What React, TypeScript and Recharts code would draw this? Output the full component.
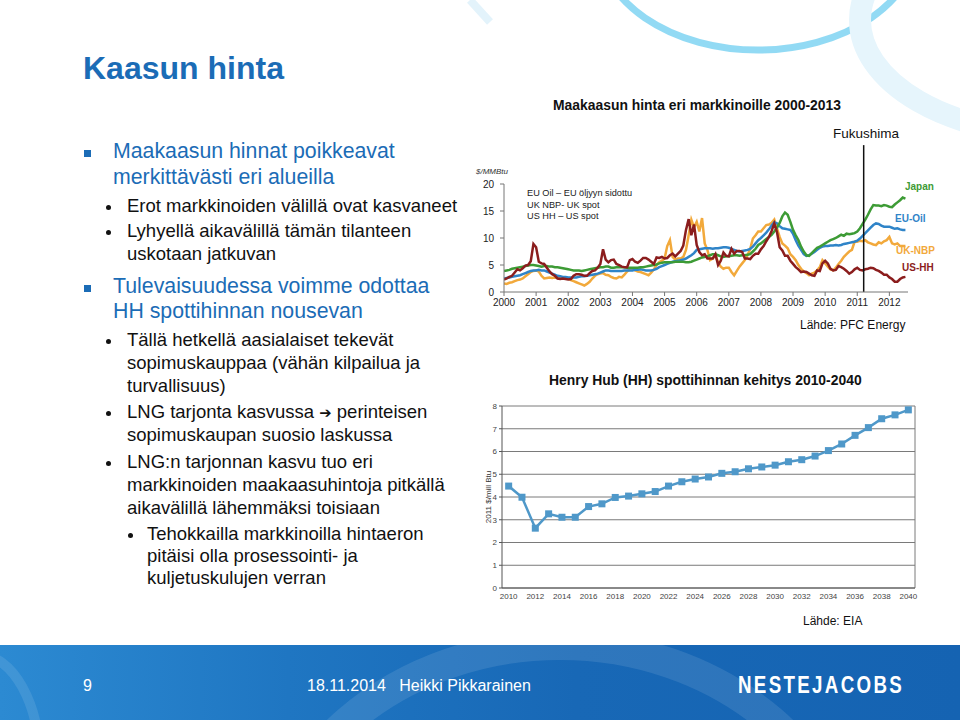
import React from 'react'
import { LineChart, Line, XAxis, YAxis, CartesianGrid, ReferenceLine, Label } from 'recharts'

// Monthly gas prices, $/MMBtu, Jan 2000 - Jul 2012 (one row per year)
const usHH = [
  2.3, 2.5, 2.8, 3.0, 3.6, 4.2, 4.0, 4.4, 4.9, 5.0, 5.7, 8.9,
  8.3, 5.6, 5.3, 5.2, 4.5, 3.8, 3.3, 3.0, 2.5, 2.4, 2.5, 2.4,
  2.3, 2.4, 3.0, 3.3, 3.3, 3.2, 3.0, 3.0, 3.5, 3.9, 4.0, 4.5,
  5.2, 7.9, 6.0, 5.5, 5.9, 6.0, 5.2, 5.0, 4.7, 4.6, 4.6, 5.9,
  6.1, 5.6, 5.4, 5.8, 6.3, 6.3, 6.0, 5.6, 5.2, 6.4, 6.3, 6.5,
  6.2, 6.3, 6.8, 7.1, 6.6, 7.1, 7.6, 8.6, 11.5, 13.5, 10.5, 12.5,
  8.7, 7.4, 6.8, 7.0, 6.2, 6.2, 6.2, 7.0, 5.0, 5.8, 7.3, 6.7,
  6.6, 8.0, 7.1, 7.6, 7.6, 7.4, 6.2, 6.2, 6.1, 6.7, 7.1, 7.1,
  7.9, 8.5, 9.4, 10.2, 11.3, 12.7, 11.1, 8.3, 7.7, 6.7, 6.7, 5.8,
  5.2, 4.6, 4.2, 3.7, 3.8, 3.7, 3.4, 3.1, 3.0, 4.0, 3.9, 5.3,
  5.8, 5.3, 4.3, 4.0, 4.1, 4.8, 4.6, 4.3, 3.9, 3.4, 3.7, 4.2,
  4.5, 4.1, 4.0, 4.2, 4.3, 4.5, 4.4, 4.1, 3.9, 3.6, 3.2, 3.2,
  2.7, 2.4, 1.9, 1.9, 2.4, 2.7, 2.8,
]
const ukNBP = [
  1.6, 1.5, 1.7, 1.8, 2.0, 2.2, 2.3, 2.5, 2.9, 3.3, 3.7, 3.9,
  4.0, 3.8, 3.0, 2.5, 2.6, 2.7, 2.6, 2.7, 2.6, 2.8, 2.6, 2.5,
  2.5, 2.2, 2.0, 1.8, 1.6, 1.4, 1.2, 1.5, 1.9, 2.5, 3.0, 3.3,
  3.4, 3.5, 3.2, 3.1, 2.8, 2.6, 2.5, 2.8, 2.7, 3.2, 3.8, 4.2,
  4.3, 4.0, 3.8, 3.7, 3.5, 3.3, 3.1, 3.6, 4.2, 5.0, 5.5, 5.8,
  6.2, 8.5, 9.6, 6.5, 6.0, 6.2, 6.2, 6.5, 7.8, 10.5, 13.4, 12.0,
  13.0, 11.2, 13.7, 9.0, 7.8, 5.9, 6.2, 6.8, 5.5, 4.7, 4.3, 4.5,
  4.5, 3.7, 3.1, 3.9, 4.7, 5.3, 5.9, 6.8, 8.0, 9.9, 10.5, 11.2,
  11.2, 11.8, 12.4, 12.5, 12.8, 13.4, 11.8, 10.2, 9.0, 8.6, 8.1, 7.0,
  6.5, 5.9, 5.0, 4.3, 3.8, 3.5, 3.1, 3.4, 3.6, 4.0, 4.6, 5.9,
  5.3, 4.7, 4.2, 4.0, 4.5, 5.2, 5.8, 6.5, 7.0, 7.5, 7.8, 9.3,
  9.3, 9.5, 9.4, 9.6, 9.2, 9.0, 8.8, 8.7, 9.2, 9.0, 9.4, 9.6,
  10.2, 9.0, 8.8, 9.0, 8.5, 8.5, 8.5,
]
const euOil = [
  2.5, 2.6, 2.7, 2.8, 2.9, 3.0, 3.1, 3.3, 3.5, 3.7, 3.9, 4.0,
  4.0, 4.1, 4.0, 4.0, 3.8, 3.6, 3.4, 3.2, 3.0, 2.9, 2.8, 2.8,
  2.7, 2.7, 2.7, 2.7, 2.8, 2.9, 2.9, 3.0, 3.1, 3.2, 3.3, 3.4,
  3.6, 3.8, 4.0, 4.0, 3.9, 3.9, 3.9, 3.9, 3.9, 4.0, 4.0, 4.0,
  4.0, 4.1, 4.1, 4.2, 4.1, 4.0, 4.0, 4.0, 4.1, 4.3, 4.6, 4.8,
  5.0, 5.2, 5.4, 5.6, 5.7, 5.8, 5.9, 6.0, 6.2, 6.5, 6.8, 7.2,
  7.8, 7.9, 8.0, 8.1, 8.1, 8.1, 8.0, 8.1, 8.1, 8.2, 8.3, 8.3,
  8.2, 8.0, 7.8, 7.6, 7.5, 7.6, 7.7, 7.8, 8.0, 8.4, 9.0, 9.6,
  10.0, 10.5, 11.0, 11.6, 12.3, 12.9, 12.7, 12.2, 11.8, 11.7, 11.6, 11.5,
  10.8, 9.6, 8.6, 7.8, 7.0, 6.7, 6.8, 7.1, 7.4, 7.8, 8.2, 8.4,
  8.5, 8.5, 8.6, 8.6, 8.7, 8.6, 8.7, 8.9, 9.0, 9.1, 9.2, 9.3,
  9.5, 9.9, 10.4, 10.9, 11.4, 11.9, 12.4, 12.7, 12.6, 12.3, 12.1, 12.1,
  12.1, 11.9, 11.7, 11.8, 11.6, 11.5, 11.5,
]
const japan = [
  3.9, 4.0, 4.1, 4.3, 4.4, 4.5, 4.6, 4.7, 4.8, 4.9, 5.0, 5.0,
  4.9, 4.8, 4.7, 4.8, 4.8, 4.7, 4.7, 4.6, 4.6, 4.5, 4.4, 4.3,
  4.2, 4.1, 4.0, 4.0, 4.0, 3.9, 4.0, 4.1, 4.2, 4.3, 4.4, 4.5,
  4.6, 4.6, 4.7, 4.7, 4.5, 4.5, 4.6, 4.6, 4.6, 4.6, 4.5, 4.5,
  4.5, 4.5, 4.5, 4.6, 4.6, 4.7, 4.8, 4.9, 5.0, 5.1, 5.3, 5.4,
  5.5, 5.5, 5.5, 5.5, 5.6, 5.6, 5.6, 5.6, 5.5, 5.5, 5.6, 5.8,
  6.0, 6.2, 6.4, 6.5, 6.6, 6.8, 7.0, 7.0, 6.8, 6.6, 6.5, 6.6,
  6.6, 6.7, 6.8, 6.8, 6.7, 6.8, 6.8, 6.9, 7.0, 7.5, 8.0, 8.7,
  9.0, 9.4, 9.8, 10.2, 10.6, 11.2, 11.9, 12.8, 14.0, 14.7, 14.3, 13.0,
  11.5, 10.5, 9.6, 8.4, 7.5, 6.8, 6.7, 7.2, 7.7, 8.2, 8.4, 8.7,
  9.0, 9.3, 9.6, 9.8, 10.0, 10.3, 10.6, 10.4, 10.8, 10.7, 10.8, 10.9,
  11.2, 11.8, 12.6, 13.4, 14.3, 15.3, 16.1, 16.0, 16.0, 15.9, 16.1, 16.0,
  15.8, 15.7, 16.2, 16.6, 17.0, 17.5, 17.3,
]
const priceYears = [2000, 2001, 2002, 2003, 2004, 2005, 2006, 2007, 2008, 2009, 2010, 2011, 2012]
const FUKUSHIMA = 2011.2

// Henry Hub outlook, 2011 $/mill Btu
const hhYears = [
  2010, 2011, 2012, 2013, 2014, 2015, 2016, 2017, 2018, 2019, 2020,
  2021, 2022, 2023, 2024, 2025, 2026, 2027, 2028, 2029, 2030,
  2031, 2032, 2033, 2034, 2035, 2036, 2037, 2038, 2039, 2040,
]
const hhPrice = [
  4.48, 3.99, 2.63, 3.26, 3.11, 3.11, 3.58, 3.70, 3.98, 4.04, 4.14,
  4.24, 4.48, 4.67, 4.79, 4.88, 5.04, 5.11, 5.24, 5.32, 5.40,
  5.55, 5.64, 5.80, 6.04, 6.33, 6.71, 7.05, 7.44, 7.61, 7.83,
]
const hhTicks = [0, 1, 2, 3, 4, 5, 6, 7, 8]

const marketData = usHH.map((v, i) => ({
  t: 2000 + i / 12,
  usHH: v,
  ukNBP: ukNBP[i],
  euOil: euOil[i],
  japan: japan[i],
}))
const hhData = hhYears.map((y, i) => ({ year: String(y), price: hhPrice[i] }))

const BLUE = '#1b6cb6'
const FONT = "'Liberation Sans', Arial, sans-serif"
const HH_COLOR = '#4f98c9'

function T({ x, y, size = 18.5, color = '#111', bold = false, children }: any) {
  return (
    <div style={{ position: 'absolute', left: x, top: y - size * 0.56, fontSize: size, lineHeight: 1, color, fontWeight: bold ? 700 : 400, whiteSpace: 'nowrap' }}>
      {children}
    </div>
  )
}

function Dot({ x, y }: any) {
  return <div style={{ position: 'absolute', left: x - 2.5, top: y - 2.5, width: 5, height: 5, borderRadius: 3, background: '#111' }} />
}

function Square({ x, y }: any) {
  return <div style={{ position: 'absolute', left: x - 3.5, top: y - 3.5, width: 7, height: 7, background: BLUE }} />
}

const SquareDot = (props: any) => {
  const { cx, cy } = props
  if (cx == null || cy == null) return null
  return <rect x={cx - 3.5} y={cy - 3.5} width={7} height={7} fill={HH_COLOR} />
}

const L1 = 21.3

export default function App() {
  return (
    <div style={{ position: 'relative', width: 960, height: 720, overflow: 'hidden', background: '#fff', fontFamily: FONT }}>
      <style>{'body{margin:0}'}</style>

      {/* background swooshes */}
      <svg width={960} height={720} style={{ position: 'absolute', left: 0, top: 0 }}>
        <ellipse cx={758} cy={-60} rx={160} ry={110} fill="none" stroke="#7fd3f2" strokeWidth={7} opacity={0.85} />
        <ellipse cx={1060} cy={20} rx={200} ry={115} fill="none" stroke="#e6f5fc" strokeWidth={22} />
        <path d="M 470 0 L 490 22" stroke="#e3f3fb" strokeWidth={8} />
      </svg>

      <T x={83} y={70} size={32} color={BLUE} bold>Kaasun hinta</T>

      {/* bullet text */}
      <Square x={87} y={153} />
      <T x={113} y={153} size={L1} color={BLUE}>Maakaasun hinnat poikkeavat</T>
      <T x={113} y={179} size={L1} color={BLUE}>merkittävästi eri alueilla</T>
      <Dot x={108} y={207} />
      <T x={127} y={207}>Erot markkinoiden välillä ovat kasvaneet</T>
      <Dot x={108} y={232} />
      <T x={127} y={232}>Lyhyellä aikavälillä tämän tilanteen</T>
      <T x={127} y={255}>uskotaan jatkuvan</T>
      <Square x={87} y={288} />
      <T x={113} y={288} size={L1} color={BLUE}>Tulevaisuudessa voimme odottaa</T>
      <T x={113} y={313} size={L1} color={BLUE}>HH spottihinnan nousevan</T>
      <Dot x={108} y={341} />
      <T x={127} y={341}>Tällä hetkellä aasialaiset tekevät</T>
      <T x={127} y={364}>sopimuskauppaa (vähän kilpailua ja</T>
      <T x={127} y={387}>turvallisuus)</T>
      <Dot x={108} y={413} />
      <T x={127} y={413}>LNG tarjonta kasvussa <span style={{ fontFamily: "'DejaVu Sans', sans-serif", fontSize: '0.8em' }}>➔</span> perinteisen</T>
      <T x={127} y={436}>sopimuskaupan suosio laskussa</T>
      <Dot x={108} y={463} />
      <T x={127} y={463}>LNG:n tarjonnan kasvu tuo eri</T>
      <T x={127} y={486}>markkinoiden maakaasuhintoja pitkällä</T>
      <T x={127} y={509}>aikavälillä lähemmäksi toisiaan</T>
      <Dot x={130} y={535} />
      <T x={147} y={535}>Tehokkailla markkinoilla hintaeron</T>
      <T x={147} y={557}>pitäisi olla prosessointi- ja</T>
      <T x={147} y={579}>kuljetuskulujen verran</T>

      {/* chart 1: market prices */}
      <T x={553} y={107} size={13.9} bold>Maakaasun hinta eri markkinoille 2000-2013</T>
      <T x={833} y={135} size={13.5}>Fukushima</T>
      <div style={{ position: 'absolute', left: 476, top: 167, fontSize: 8, fontStyle: 'italic', color: '#333' }}>$/MMBtu</div>
      <div style={{ position: 'absolute', left: 440, top: 140 }}>
        <LineChart width={500} height={180} data={marketData} margin={{ top: 44, right: 32, bottom: 6, left: 0 }}>
          <XAxis
            dataKey="t"
            type="number"
            domain={[2000, 2012.58]}
            ticks={priceYears}
            tickFormatter={(v: number) => String(Math.round(v))}
            tick={{ fontSize: 10, fill: '#222' }}
            stroke="#777"
            tickSize={4}
            tickMargin={3}
            height={22}
            allowDataOverflow
          />
          <YAxis
            domain={[0, 20]}
            ticks={[0, 5, 10, 15, 20]}
            width={64}
            tick={{ fontSize: 10, fill: '#222' }}
            stroke="#777"
            tickSize={4}
            tickMargin={6}
          />
          <Line dataKey="ukNBP" stroke="#f2a93b" strokeWidth={2.5} dot={false} isAnimationActive={false} />
          <Line dataKey="euOil" stroke="#2f84c8" strokeWidth={2.5} dot={false} isAnimationActive={false} />
          <Line dataKey="japan" stroke="#3d9b35" strokeWidth={2.5} dot={false} isAnimationActive={false} />
          <Line dataKey="usHH" stroke="#8b1d1d" strokeWidth={2.5} dot={false} isAnimationActive={false} />
          <ReferenceLine
            segment={[{ x: FUKUSHIMA, y: 0 }, { x: FUKUSHIMA, y: 27.2 }]}
            stroke="#111"
            strokeWidth={1.5}
            ifOverflow="visible"
          />
        </LineChart>
      </div>
      <div style={{ position: 'absolute', left: 527, top: 188, fontSize: 9.2, lineHeight: '11.5px', color: '#222' }}>
        <div>EU Oil – EU öljyyn sidottu</div>
        <div>UK NBP- UK spot</div>
        <div>US HH – US spot</div>
      </div>
      <T x={905} y={188} size={10} color="#3d9b35" bold>Japan</T>
      <T x={895} y={220} size={10} color="#2f84c8" bold>EU-Oil</T>
      <T x={896} y={252} size={10} color="#f2a93b" bold>UK-NBP</T>
      <T x={902} y={269} size={10} color="#8b1d1d" bold>US-HH</T>
      <T x={800} y={326} size={12}>Lähde: PFC Energy</T>

      {/* chart 2: Henry Hub outlook */}
      <T x={549} y={382} size={13.9} bold>Henry Hub (HH) spottihinnan kehitys 2010-2040</T>
      <div style={{ position: 'absolute', left: 440, top: 390 }}>
        <LineChart width={490} height={220} data={hhData} margin={{ top: 16, right: 15, bottom: 4, left: 0 }}>
          <CartesianGrid stroke="#7a7a7a" verticalPoints={[475]} syncWithTicks />
          <XAxis
            dataKey="year"
            scale="band"
            interval={1}
            tick={{ fontSize: 8, fill: '#444' }}
            tickLine={false}
            tickSize={3}
            tickMargin={2}
            stroke="#555"
            height={18}
          />
          <YAxis
            domain={[0, 8]}
            ticks={hhTicks}
            tickCount={9}
            interval={0}
            width={62}
            tick={{ fontSize: 8, fill: '#444' }}
            tickSize={3}
            tickMargin={2}
            stroke="#555"
          >
            <Label
              content={(p: any) => {
                const vb = p.viewBox || { x: 0, y: 16, height: 182 }
                const cx = vb.x + 48
                const cy = vb.y + vb.height / 2
                return (
                  <text x={cx} y={cy} transform={`rotate(-90 ${cx} ${cy})`} textAnchor="middle" dominantBaseline="central" fontSize={8} fill="#333" style={{ fill: '#333' }}>
                    2011 $/mill Btu
                  </text>
                )
              }}
            />
          </YAxis>
          <Line dataKey="price" stroke={HH_COLOR} strokeWidth={2.5} dot={<SquareDot />} isAnimationActive={false} />
        </LineChart>
      </div>
      <T x={803} y={622} size={12}>Lähde: EIA</T>

      {/* footer */}
      <div style={{ position: 'absolute', left: 0, top: 645, width: 960, height: 75, background: 'linear-gradient(90deg, #2c8ad2 0%, #1f76c2 30%, #1868b6 60%, #1563b2 100%)', overflow: 'hidden' }}>
        <svg width={960} height={75} style={{ position: 'absolute', left: 0, top: 0 }}>
          <ellipse cx={560} cy={260} rx={300} ry={260} fill="none" stroke="rgba(255,255,255,0.10)" strokeWidth={30} />
          <ellipse cx={-20} cy={120} rx={60} ry={110} fill="none" stroke="rgba(255,255,255,0.10)" strokeWidth={10} />
        </svg>
        <div style={{ position: 'absolute', left: 83, top: 32, fontSize: 16, color: '#fff' }}>9</div>
        <div style={{ position: 'absolute', left: 307, top: 32, fontSize: 16, color: '#fff', whiteSpace: 'nowrap' }}>
          18.11.2014&nbsp;&nbsp;&nbsp;Heikki Pikkarainen
        </div>
        <div style={{ position: 'absolute', left: 738, top: 26, fontSize: 24, fontWeight: 700, color: '#fff', letterSpacing: 3, transform: 'scaleX(0.78)', transformOrigin: 'left center', fontFamily: "'Liberation Sans', sans-serif", whiteSpace: 'nowrap' }}>
          NESTEJACOBS
        </div>
      </div>
    </div>
  )
}
